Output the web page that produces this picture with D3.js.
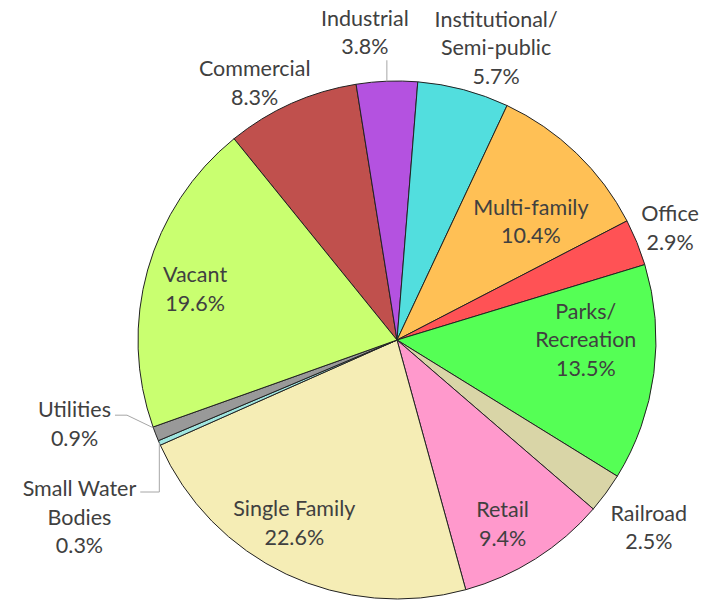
<!DOCTYPE html>
<html>
<head>
<meta charset="utf-8">
<script src="https://cdn.jsdelivr.net/npm/d3@7"></script>
<style>
body { margin: 0; background: #fff; }
text { font-family: Lato, "Open Sans", sans-serif; font-size: 21.5px; fill: #404040; }
</style>
</head>
<body>
<svg id="chart" width="725" height="600"></svg>
<script>
// land use shares, in the order Excel drew them (clockwise)
var categories = ["Commercial", "Industrial", "Institutional/ Semi-public", "Multi-family", "Office",
                  "Parks/ Recreation", "Railroad", "Retail", "Single Family", "Small Water Bodies",
                  "Utilities", "Vacant"];
var values = [8.3, 3.8, 5.7, 10.4, 2.9, 13.5, 2.5, 9.4, 22.6, 0.3, 0.9, 19.6];
var colors = ["#C0504D", "#B452E0", "#52DEDE", "#FFC055", "#FF5255", "#55FF55",
              "#D9D5A7", "#FF99CC", "#F5EDB5", "#A0E6E0", "#999999", "#C9FF70"];

// label lines per slice (how the text is broken)
var labelLines = [["Commercial"], ["Industrial"], ["Institutional/", "Semi-public"], ["Multi-family"], ["Office"],
                  ["Parks/", "Recreation"], ["Railroad"], ["Retail"], ["Single Family"], ["Small Water", "Bodies"],
                  ["Utilities"], ["Vacant"]];

var width = 725, height = 600,
    cx = 397, cy = 340, r = 259,
    lineH = 28.5;

// label placement: radius factor + nudge
var labelPos = {
  "Commercial": {k: 1.14, dx: -22, dy: 12},
  "Industrial": {k: 1.19, dx: -20, dy: 0},
  "Institutional/ Semi-public": {k: 1.19, dx: 20, dy: 5},
  "Multi-family": {k: 0.69, dx: 10, dy: 10},
  "Office": {k: 1.13, dx: 2, dy: -2},
  "Parks/ Recreation": {k: 0.70, dx: 9, dy: -24},
  "Railroad": {k: 1.21, dx: -1, dy: 2},
  "Retail": {k: 0.82, dx: -8, dy: 4},
  "Single Family": {k: 0.81, dx: -13, dy: -7},
  "Small Water Bodies": {k: 1.336, dx: 0, dy: 39},
  "Utilities": {k: 1.336, dx: 0, dy: -42},
  "Vacant": {k: 0.81, dx: 0, dy: 5}
};

var deg = Math.PI / 180;
var pie = d3.pie().sort(null).value(d => d.v)
    .startAngle(-39 * deg).endAngle(321 * deg);
var data = pie(categories.map((c, i) => ({name: c, v: values[i], col: colors[i], lines: labelLines[i]})));

var arc = d3.arc().innerRadius(0).outerRadius(r);

var svg = d3.select("#chart");
var g = svg.append("g").attr("transform", "translate(" + cx + "," + cy + ")");

g.selectAll("path.slice").data(data).enter().append("path")
    .attr("class", "slice")
    .attr("d", arc)
    .attr("fill", d => d.data.col)
    .attr("stroke", "#222")
    .attr("stroke-width", 1)
    .attr("stroke-linejoin", "round");

function polar(a, rad) { return [rad * Math.sin(a), -rad * Math.cos(a)]; }

data.forEach(function(d) {
  var p = labelPos[d.data.name];
  var mid = (d.startAngle + d.endAngle) / 2;
  var c = polar(mid, r * p.k);
  var x = c[0] + p.dx, y = c[1] + p.dy;
  var lines = d.data.lines.concat([d.data.v.toFixed(1) + "%"]);
  var y0 = y - (lines.length - 1) * lineH / 2;
  var t = g.append("text").attr("text-anchor", "middle").attr("dominant-baseline", "central");
  lines.forEach(function(l, i) {
    t.append("tspan").attr("x", x).attr("y", y0 + i * lineH).text(l);
  });

  // leader lines for the labels Excel pulled away
  var edge = polar(mid, r);
  var pts = null;
  var bb = t.node().getBBox();
  if (d.data.name == "Industrial") {
    pts = [[edge[0], bb.y + bb.height + 1], edge];
  } else if (d.data.name == "Utilities") {
    var ly = y0 + 6;
    var w1 = t.select("tspan").node().getComputedTextLength();
    pts = [[x + w1 / 2 + 4, ly], [x + w1 / 2 + 16, ly], polar(d.endAngle - 0.2 * deg, r)];
  } else if (d.data.name == "Small Water Bodies") {
    var ly2 = y0 + 4;
    var w2 = t.select("tspan").node().getComputedTextLength();
    pts = [[x + w2 / 2 + 4, ly2], [edge[0], ly2], edge];
  }
  if (pts) {
    g.append("path")
      .attr("d", d3.line()(pts))
      .attr("fill", "none")
      .attr("stroke", "#A6A6A6")
      .attr("stroke-width", 1);
  }
});
</script>
</body>
</html>
